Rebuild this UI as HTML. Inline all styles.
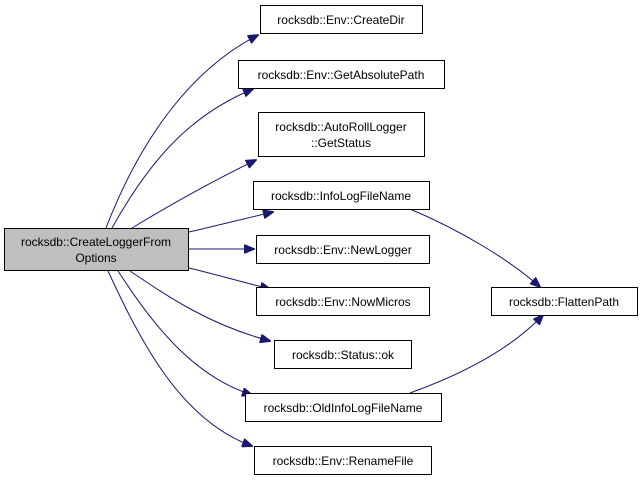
<!DOCTYPE html>
<html><head><style>html,body{margin:0;padding:0;background:#fff}svg{display:block}</style></head><body>
<svg width="643" height="483" xmlns="http://www.w3.org/2000/svg" font-family="Liberation Sans, sans-serif" font-size="12">
<defs><marker id="a" markerWidth="11" markerHeight="9" refX="10" refY="4.5" orient="auto" markerUnits="userSpaceOnUse"><path d="M0,0 L11,4.5 L0,9 z" fill="#191970" stroke="#191970"/></marker></defs>
<g fill="none" stroke="#191970" stroke-width="1" marker-end="url(#a)">
<path d="M106,228 C140,140 190,70 258,35"/>
<path d="M112,228 C150,160 190,115 253,89"/>
<path d="M132,228 C170,205 215,180 256,160"/>
<path d="M189,232 C215,226 240,220 273,212"/>
<path d="M189,249 C210,249 230,249 254,249"/>
<path d="M189,268 C210,273 235,280 270,289"/>
<path d="M130,271 C170,298 210,325 270,341"/>
<path d="M118,271 C150,320 190,375 252,395"/>
<path d="M108,271 C140,340 180,420 252,446"/>
<path d="M410,209 C460,230 510,260 540,287"/>
<path d="M410,393 C460,375 510,350 543,315"/>
</g>
<g stroke="#000" stroke-width="1" fill="#fff">
<rect x="4.5" y="228.5" width="184" height="42" fill="#bfbfbf"/>
<rect x="260.5" y="5.5" width="162" height="28"/>
<rect x="238.5" y="60.5" width="206" height="28"/>
<rect x="258.5" y="112.5" width="166" height="44"/>
<rect x="253.5" y="181.5" width="176" height="28"/>
<rect x="256.5" y="235.5" width="173" height="28"/>
<rect x="256.5" y="287.5" width="173" height="28"/>
<rect x="274.5" y="340.5" width="137" height="28"/>
<rect x="245.5" y="393.5" width="196" height="28"/>
<rect x="254.5" y="446.5" width="177" height="28"/>
<rect x="491.5" y="287.5" width="146" height="28"/>
</g>
<g text-anchor="middle" fill="#000">
<text x="96" y="246">rocksdb::CreateLoggerFrom</text>
<text x="96" y="262">Options</text>
<text x="341" y="24">rocksdb::Env::CreateDir</text>
<text x="341" y="79">rocksdb::Env::GetAbsolutePath</text>
<text x="341" y="131">rocksdb::AutoRollLogger</text>
<text x="341" y="147">::GetStatus</text>
<text x="341" y="200">rocksdb::InfoLogFileName</text>
<text x="343" y="254">rocksdb::Env::NewLogger</text>
<text x="343" y="306">rocksdb::Env::NowMicros</text>
<text x="343" y="359">rocksdb::Status::ok</text>
<text x="343" y="412">rocksdb::OldInfoLogFileName</text>
<text x="343" y="465">rocksdb::Env::RenameFile</text>
<text x="564" y="306">rocksdb::FlattenPath</text>
</g>
</svg>
</body></html>
